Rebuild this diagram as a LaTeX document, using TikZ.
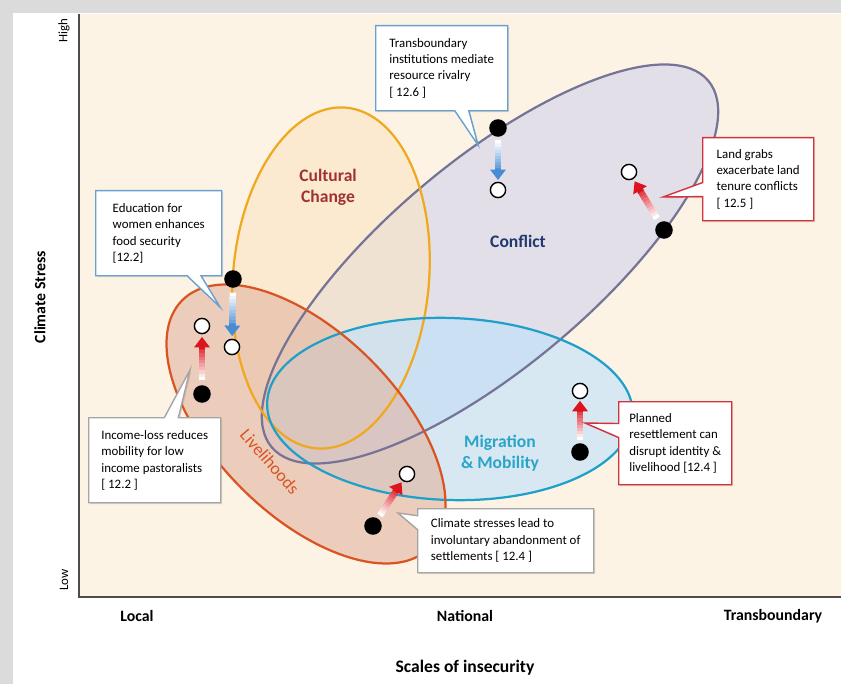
\documentclass[tikz,border=0pt]{standalone}
\usepackage{fontspec}
\setmainfont{Carlito}
\usetikzlibrary{calc,arrows.meta,shapes.callouts,shadows}

\definecolor{cream}{RGB}{253,243,228}
\definecolor{conflictfill}{RGB}{210,210,236}
\definecolor{conflictline}{RGB}{118,116,150}
\definecolor{culturefill}{RGB}{250,228,196}
\definecolor{cultureline}{RGB}{240,168,30}
\definecolor{migfill}{RGB}{190,225,252}
\definecolor{migline}{RGB}{30,160,200}
\definecolor{livefill}{RGB}{226,180,160}
\definecolor{liveline}{RGB}{218,84,35}
\definecolor{bluebox}{RGB}{105,160,210}
\definecolor{redbox}{RGB}{210,50,60}
\definecolor{greybox}{RGB}{165,165,165}
\definecolor{arrowblue}{RGB}{70,140,210}
\definecolor{arrowred}{RGB}{220,20,30}
\definecolor{culturetext}{RGB}{160,50,50}
\definecolor{conflicttext}{RGB}{30,58,110}
\definecolor{migtext}{RGB}{40,165,200}

\tikzset{
  blackdot/.style={circle, fill=black, minimum size=15pt, inner sep=0pt},
  whitedot/.style={circle, draw=black, line width=1.2pt, fill=white, minimum size=13pt, inner sep=0pt},
  notebox/.style={rectangle callout, fill=white, line width=1.2pt, align=left, anchor=north west,
    font=\fontsize{11}{14}\selectfont, callout pointer width=12pt, inner sep=3pt,
    drop shadow={opacity=0.25, shadow xshift=1.2pt, shadow yshift=-1.2pt}},
  axislabel/.style={font=\bfseries\fontsize{13.5}{16}\selectfont},
  zonelabel/.style={font=\bfseries\fontsize{15}{18}\selectfont, align=center},
  zonefill/.style={fill opacity=0.6},
  zoneline/.style={line width=1.9pt},
}

% shaft fades in from white, head in full colour
\newcommand{\fadearrow}[3]{%
  \foreach \k in {0,...,9}{
    \pgfmathtruncatemacro{\shadeval}{\k*10}
    \draw[line width=5.5pt, #3!\shadeval!white] ($(#1)!0.2+\k*0.05!(#2)$) -- ($(#1)!0.26+\k*0.05!(#2)$);
  }
  \draw[line width=5.5pt, #3, -{Triangle[width=13pt,length=9pt]}] ($(#1)!0.66!(#2)$) -- ($(#1)!0.84!(#2)$);
}

\begin{document}
\begin{tikzpicture}[x=0.03cm, y=-0.03cm]
    \useasboundingbox (0,0) rectangle (841,684);
    \fill[black!14] (0,0) rectangle (841,684);
    \fill[white] (13,13) rectangle (841,684);
    \fill[cream] (79,14) rectangle (841,597);

    % zones
    \fill[conflictfill, zonefill] (490,264) circle [x radius=285, y radius=103, rotate=40];
    \fill[culturefill, zonefill] (331,278) circle [x radius=98, y radius=171, rotate=-5];
    \fill[migfill, zonefill] (450,409) circle [x radius=183, y radius=91, rotate=-2];
    \fill[livefill, zonefill] (306,424) circle [x radius=175, y radius=91, rotate=-45];
    \draw[conflictline, zoneline] (490,264) circle [x radius=285, y radius=103, rotate=40];
    \draw[cultureline, zoneline] (331,278) circle [x radius=98, y radius=171, rotate=-5];
    \draw[migline, zoneline] (450,409) circle [x radius=183, y radius=91, rotate=-2];
    \draw[liveline, zoneline] (306,424) circle [x radius=175, y radius=91, rotate=-45];

    % axes
    \draw[black!70, line width=1.2pt] (79,14) -- (79,597) -- (841,597);
    \node[rotate=90, font=\fontsize{11}{13}\selectfont] (high) at (64,31) {High};
    \node[rotate=90, font=\fontsize{11}{13}\selectfont] (low) at (64,580) {Low};
    \node[axislabel, rotate=90] (ylab) at (40,297) {Climate Stress};
    \node[axislabel] (local) at (137,616) {Local};
    \node[axislabel] (national) at (465,616) {National};
    \node[axislabel] (trans) at (773,616) {Transboundary};
    \node[font=\bfseries\fontsize{15}{18}\selectfont] (xlab) at (465,668) {Scales of insecurity};

    % zone names
    \node[zonelabel, text=culturetext] (culture) at (328,187) {Cultural\\Change};
    \node[zonelabel, text=conflicttext] (conflict) at (518,241) {Conflict};
    \node[zonelabel, text=migtext] (migration) at (500,453) {Migration\\\& Mobility};
    \node[text=liveline, rotate=-49, inner sep=0pt, font=\fontsize{15}{18}\selectfont] (livelihood) at (270,462) {Livelihoods};

    % shifts
    \node[blackdot] (inst-b) at (498,128) {};
    \node[whitedot] (inst-w) at (498,190) {};
    \node[blackdot] (grab-b) at (664,230) {};
    \node[whitedot] (grab-w) at (629,172) {};
    \node[blackdot] (edu-b) at (233,279) {};
    \node[whitedot] (edu-w) at (232,347) {};
    \node[blackdot] (inc-b) at (202,394) {};
    \node[whitedot] (inc-w) at (202,326) {};
    \node[blackdot] (aban-b) at (373,526) {};
    \node[whitedot] (aban-w) at (407,474) {};
    \node[blackdot] (plan-b) at (580,452) {};
    \node[whitedot] (plan-w) at (580,391) {};

    \fadearrow{inst-b}{inst-w}{arrowblue}
    \fadearrow{edu-b}{edu-w}{arrowblue}
    \fadearrow{grab-b}{grab-w}{arrowred}
    \fadearrow{inc-b}{inc-w}{arrowred}
    \fadearrow{aban-b}{aban-w}{arrowred}
    \fadearrow{plan-b}{plan-w}{arrowred}

    % notes
    \coordinate (inst-tip) at (478,145);
    \coordinate (edu-tip) at (220,307);
    \coordinate (grab-tip) at (663,197);
    \coordinate (inc-tip) at (190,370);
    \coordinate (aban-tip) at (398,513);
    \coordinate (plan-tip) at (585,423);

    \node[notebox, draw=bluebox, minimum width=3.96cm, minimum height=2.55cm,
      callout absolute pointer={(inst-tip)}] (inst-note) at (375,25)
      {Transboundary\\institutions mediate\\resource rivalry\\{[} 12.6 ]};
    \node[notebox, draw=bluebox, minimum width=3.78cm, minimum height=2.55cm,
      callout absolute pointer={(edu-tip)}] (edu-note) at (95,190)
      {Education for\\women enhances\\food security\\{[}12.2]};
    \node[notebox, draw=redbox, minimum width=3.33cm, minimum height=2.49cm,
      callout absolute pointer={(grab-tip)}] (grab-note) at (702,137)
      {Land grabs\\exacerbate land\\tenure conflicts\\{[} 12.5 ]};
    \node[notebox, draw=greybox, minimum width=3.96cm, minimum height=2.55cm,
      callout absolute pointer={(inc-tip)}] (inc-note) at (88,417)
      {Income-loss reduces\\mobility for low\\income pastoralists\\{[} 12.2 ]};
    \node[notebox, draw=greybox, minimum width=5.28cm, minimum height=1.92cm,
      callout absolute pointer={(aban-tip)}] (aban-note) at (417,508)
      {Climate stresses lead to\\involuntary abandonment of\\settlements [ 12.4 ]};
    \node[notebox, draw=redbox, minimum width=3.39cm, minimum height=2.49cm,
      callout absolute pointer={(plan-tip)}] (plan-note) at (618,401)
      {Planned\\resettlement can\\disrupt identity \&\\livelihood [12.4 ]};
\end{tikzpicture}
\end{document}
